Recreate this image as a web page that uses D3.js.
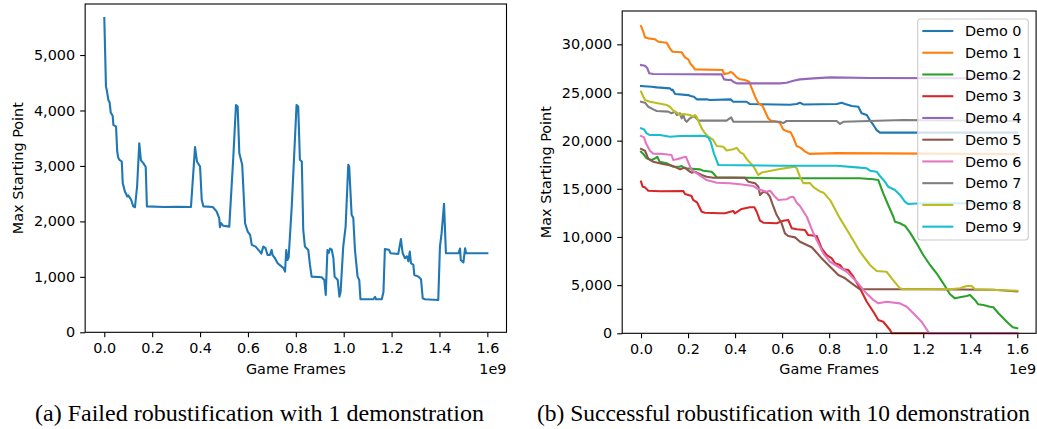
<!DOCTYPE html>
<html>
<head>
<meta charset="utf-8">
<script src="https://cdn.jsdelivr.net/npm/d3@7.9.0/dist/d3.min.js"></script>
<style>
  body { margin: 0; background: #fff; }
  svg { display: block; }
  .tick text { font-family: "DejaVu Sans", sans-serif; font-size: 14.4px; fill: #000; }
  .tick line { stroke: #000; stroke-width: 1.1px; }
  .lbl { font-family: "DejaVu Sans", sans-serif; font-size: 14.4px; fill: #000; }
  .cap { font-family: "Liberation Serif", "Times New Roman", Times, serif; font-size: 21px; fill: #000; }
</style>
</head>
<body>
<svg id="chart" width="1037" height="429"></svg>
<script>
// game frames in units of 1e9, value = max starting point
const leftRun = [[0,5668],[0.007,4430],[0.01,4373],[0.017,4190],[0.022,4150],[0.027,3960],[0.035,3905],[0.038,3740],[0.049,3710],[0.054,3260],[0.058,3150],[0.063,3110],[0.073,3080],[0.077,2690],[0.086,2540],[0.096,2450],[0.1,2470],[0.112,2390],[0.121,2270],[0.128,2255],[0.137,2630],[0.146,3410],[0.153,3100],[0.163,3050],[0.173,2980],[0.178,2270],[0.25,2260],[0.3,2265],[0.362,2260],[0.379,3340],[0.387,3080],[0.4,2990],[0.407,2390],[0.414,2270],[0.453,2260],[0.469,2180],[0.48,2060],[0.483,1895],[0.487,1970],[0.497,1920],[0.522,1906],[0.539,3170],[0.55,4100],[0.557,4070],[0.564,3230],[0.576,3020],[0.588,1967],[0.599,1816],[0.609,1756],[0.616,1576],[0.632,1545],[0.65,1455],[0.656,1420],[0.664,1545],[0.673,1520],[0.682,1395],[0.692,1395],[0.699,1485],[0.703,1390],[0.713,1335],[0.724,1245],[0.741,1185],[0.749,1155],[0.755,1094],[0.76,1485],[0.765,1305],[0.77,1350],[0.783,2270],[0.803,4100],[0.81,4070],[0.817,3110],[0.825,3080],[0.831,1847],[0.838,1545],[0.852,1485],[0.859,1215],[0.866,1004],[0.908,993],[0.919,944],[0.925,673],[0.932,1485],[0.937,1430],[0.943,1510],[0.95,1490],[0.957,1335],[0.962,1004],[0.975,944],[0.982,643],[0.987,725],[0.998,1545],[1.008,1906],[1.019,3020],[1.023,2990],[1.033,2118],[1.04,2060],[1.047,1485],[1.058,1004],[1.065,944],[1.07,596],[1.124,596],[1.131,640],[1.135,596],[1.159,596],[1.166,725],[1.172,1500],[1.189,1490],[1.196,1425],[1.228,1413],[1.239,1680],[1.246,1430],[1.256,1335],[1.264,1370],[1.27,1280],[1.276,1455],[1.281,1245],[1.291,1215],[1.295,1034],[1.312,1004],[1.323,956],[1.33,614],[1.339,596],[1.395,583],[1.402,1545],[1.409,1787],[1.419,2316],[1.427,1425],[1.479,1425],[1.486,1510],[1.489,1305],[1.5,1260],[1.507,1515],[1.511,1425],[1.6,1425]];

const demo0 = [[0,25670],[0.045,25600],[0.067,25530],[0.123,25430],[0.13,25250],[0.134,25300],[0.145,24840],[0.201,24730],[0.211,24630],[0.225,24560],[0.237,24290],[0.279,24290],[0.293,24220],[0.381,24290],[0.392,24040],[0.449,24040],[0.463,23800],[0.633,23730],[0.662,23800],[0.676,23940],[0.69,23760],[0.832,23800],[0.853,23940],[0.868,23800],[0.896,23600],[0.924,23520],[0.938,22840],[0.96,22660],[0.974,22080],[0.988,21630],[1.002,21100],[1.016,20830],[1.6,20830]];
const demo1 = [[0,31900],[0.01,31300],[0.017,30720],[0.031,30620],[0.06,30520],[0.074,30270],[0.109,30170],[0.123,29580],[0.134,29230],[0.173,29170],[0.187,28650],[0.201,28440],[0.211,27950],[0.222,27670],[0.229,27400],[0.347,27330],[0.353,26910],[0.371,26990],[0.381,27150],[0.391,27000],[0.407,26570],[0.421,26370],[0.442,26290],[0.46,26120],[0.471,25430],[0.485,24560],[0.499,23880],[0.517,23600],[0.531,22840],[0.541,22320],[0.551,22080],[0.577,21990],[0.591,21820],[0.605,21160],[0.619,20990],[0.636,20880],[0.648,20300],[0.662,19440],[0.679,19250],[0.697,18890],[0.716,18630],[0.832,18700],[1.6,18600]];
const demo2 = [[0,18850],[0.01,18610],[0.024,18160],[0.045,17990],[0.06,18160],[0.069,18330],[0.079,17820],[0.095,17720],[0.109,17650],[0.137,17290],[0.163,17290],[0.173,17360],[0.187,17130],[0.251,17020],[0.265,16880],[0.3,16780],[0.307,16610],[0.322,16190],[0.591,16090],[0.93,16090],[0.988,15990],[1.009,15910],[1.03,14530],[1.051,13320],[1.073,12100],[1.08,11580],[1.101,11420],[1.115,11240],[1.122,11170],[1.144,10450],[1.172,9340],[1.2,8130],[1.229,7090],[1.257,6230],[1.285,5190],[1.314,4050],[1.335,3630],[1.356,3740],[1.385,3870],[1.399,3980],[1.42,3460],[1.434,3010],[1.456,2940],[1.484,2760],[1.498,2700],[1.52,2080],[1.541,1560],[1.562,1040],[1.581,620],[1.6,520]];
const demo3 = [[0,15740],[0.007,15220],[0.017,15150],[0.031,14800],[0.081,14740],[0.18,14770],[0.187,14460],[0.215,14250],[0.222,13840],[0.239,13560],[0.258,12620],[0.272,12520],[0.336,12460],[0.357,12460],[0.392,12700],[0.399,12460],[0.428,12910],[0.463,13080],[0.482,13080],[0.492,12620],[0.506,11690],[0.52,11480],[0.577,11420],[0.605,11690],[0.626,11760],[0.641,10900],[0.662,10800],[0.697,10720],[0.711,10200],[0.747,10100],[0.768,8820],[0.789,8130],[0.811,7780],[0.825,7270],[0.846,7090],[0.86,6640],[0.882,6570],[0.903,5880],[0.931,4670],[0.96,3280],[0.988,2240],[1.009,1380],[1.03,1200],[1.059,340],[1.066,0],[1.6,0]];
const demo4 = [[0,27850],[0.017,27780],[0.027,27510],[0.035,26990],[0.052,26920],[0.343,26880],[0.353,26360],[0.371,26290],[0.381,26330],[0.392,26120],[0.407,25950],[0.591,25950],[0.619,26010],[0.648,26220],[0.676,26360],[0.733,26470],[0.804,26570],[0.974,26500],[1.6,26470]];
const demo5 = [[0,19150],[0.017,18950],[0.031,18100],[0.052,17810],[0.088,17600],[0.137,17360],[0.166,17020],[0.187,17200],[0.201,16900],[0.215,16670],[0.229,16780],[0.258,16430],[0.279,16260],[0.307,16150],[0.442,16150],[0.456,15740],[0.485,15570],[0.499,15220],[0.506,14360],[0.52,14700],[0.535,14600],[0.548,14180],[0.563,13140],[0.577,12280],[0.598,11420],[0.612,10380],[0.626,10100],[0.655,9960],[0.676,9510],[0.705,9170],[0.726,8930],[0.747,8370],[0.768,7780],[0.789,7270],[0.818,6570],[0.839,6050],[0.868,5710],[0.896,5190],[0.931,4570],[1.2,4570],[1.5,4520],[1.6,4350]];
const demo6 = [[0,20480],[0.013,20340],[0.021,19720],[0.038,18950],[0.052,18650],[0.095,18610],[0.13,18510],[0.137,17990],[0.152,18060],[0.166,18160],[0.18,18270],[0.191,18330],[0.201,17750],[0.215,16950],[0.237,16610],[0.279,15910],[0.322,15630],[0.378,15570],[0.421,15470],[0.478,15290],[0.499,14950],[0.535,14700],[0.549,14800],[0.563,14360],[0.584,13840],[0.619,13910],[0.633,14120],[0.648,14180],[0.662,13560],[0.676,13210],[0.705,12100],[0.733,10380],[0.754,9340],[0.775,8300],[0.804,7430],[0.839,6910],[0.875,6390],[0.917,5360],[0.952,4320],[0.988,3460],[1.009,3110],[1.044,3280],[1.101,3110],[1.13,2760],[1.158,2080],[1.193,1200],[1.226,0],[1.6,0]];
const demo7 = [[0,24040],[0.017,23940],[0.031,23520],[0.052,23250],[0.067,23080],[0.116,23010],[0.13,22840],[0.145,23010],[0.152,22660],[0.166,22840],[0.173,22320],[0.18,22660],[0.187,22140],[0.194,21960],[0.208,22320],[0.22,22480],[0.229,22480],[0.244,22080],[0.364,22080],[0.383,22420],[0.392,21980],[0.591,21960],[0.605,21820],[0.619,22040],[0.832,22040],[0.846,21730],[0.86,21960],[1.115,22140],[1.6,22040]];
const demo8 = [[0,25080],[0.01,24560],[0.017,24220],[0.038,24040],[0.088,23800],[0.109,23700],[0.123,23520],[0.137,23110],[0.152,22900],[0.166,22660],[0.18,22770],[0.208,22660],[0.222,22480],[0.229,22660],[0.236,22480],[0.258,21280],[0.272,20770],[0.286,20410],[0.307,20070],[0.322,19440],[0.35,19370],[0.364,18980],[0.392,19100],[0.407,19250],[0.421,18800],[0.435,18630],[0.449,18090],[0.478,17330],[0.499,16440],[0.513,16690],[0.591,17050],[0.655,17300],[0.662,17140],[0.676,16240],[0.69,15590],[0.719,15590],[0.733,15180],[0.761,14730],[0.776,14600],[0.804,13830],[0.846,11930],[0.889,10200],[0.931,8470],[0.974,7090],[1.002,6470],[1.044,6390],[1.066,5710],[1.101,4670],[1.115,4570],[1.314,4570],[1.356,4670],[1.385,4910],[1.406,4910],[1.42,4570],[1.6,4420]];
const demo9 = [[0,21280],[0.013,21170],[0.024,20760],[0.038,20580],[0.081,20580],[0.123,20410],[0.166,20480],[0.251,20510],[0.272,20480],[0.286,20340],[0.296,19890],[0.31,18680],[0.329,17470],[0.591,17400],[0.832,17400],[0.917,17230],[0.96,17130],[0.974,16880],[1.002,16780],[1.016,16330],[1.037,15740],[1.051,15220],[1.08,14880],[1.101,14360],[1.122,13660],[1.136,13420],[1.172,13480],[1.6,13520]];

const demoNames = ['Demo 0','Demo 1','Demo 2','Demo 3','Demo 4','Demo 5','Demo 6','Demo 7','Demo 8','Demo 9'];
const demoRuns = [demo0, demo1, demo2, demo3, demo4, demo5, demo6, demo7, demo8, demo9];
const xTicks = [0, 0.2, 0.4, 0.6, 0.8, 1.0, 1.2, 1.4, 1.6];
const leftYTicks = [0, 1000, 2000, 3000, 4000, 5000];
const rightYTicks = [0, 5000, 10000, 15000, 20000, 25000, 30000];
const captions = ['(a) Failed robustification with 1 demonstration', '(b) Successful robustification with 10 demonstration'];

const colors = d3.schemeCategory10;
const svg = d3.select('#chart');

function drawPanel(box, yMax, yTicks, runs, ylabelX) {
  const x = d3.scaleLinear().domain([-0.08, 1.68]).range([box.x0, box.x1]);
  const y = d3.scaleLinear().domain([0, yMax]).range([box.y1, box.y0]);
  const g = svg.append('g');

  const xAxis = g.append('g')
    .attr('transform', `translate(0,${box.y1})`)
    .call(d3.axisBottom(x).tickValues(xTicks).tickFormat(d3.format('.1f')).tickSize(5).tickPadding(5));
  const yAxis = g.append('g')
    .attr('transform', `translate(${box.x0},0)`)
    .call(d3.axisLeft(y).tickValues(yTicks).tickFormat(d3.format(',')).tickSize(5).tickPadding(5));
  xAxis.select('.domain').remove();
  yAxis.select('.domain').remove();

  const line = d3.line().x(d => x(d[0])).y(d => y(d[1]));
  g.append('g').selectAll('path')
    .data(runs)
    .join('path')
    .attr('d', d => line(d.values))
    .attr('fill', 'none')
    .attr('stroke', d => d.color)
    .attr('stroke-width', 2.1)
    .attr('stroke-linejoin', 'round')
    .attr('stroke-linecap', 'square');

  g.append('rect')
    .attr('x', box.x0).attr('y', box.y0)
    .attr('width', box.x1 - box.x0).attr('height', box.y1 - box.y0)
    .attr('fill', 'none').attr('stroke', '#000').attr('stroke-width', 1.1);

  g.append('text').attr('class', 'lbl')
    .attr('x', (box.x0 + box.x1) / 2).attr('y', 374.3)
    .attr('text-anchor', 'middle').text('Game Frames');
  g.append('text').attr('class', 'lbl')
    .attr('x', box.x1).attr('y', 374.3)
    .attr('text-anchor', 'end').text('1e9');
  g.append('text').attr('class', 'lbl')
    .attr('transform', `translate(${ylabelX},${(box.y0 + box.y1) / 2}) rotate(-90)`)
    .attr('text-anchor', 'middle').text('Max Starting Point');
  return g;
}

drawPanel({x0: 85.15, x1: 506.5, y0: 4, y1: 332.3}, 5920, leftYTicks,
  [{values: leftRun, color: colors[0]}], 22.5);

const right = drawPanel({x0: 622.2, x1: 1036.1, y0: 11, y1: 333.3}, 33460, rightYTicks,
  demoRuns.map((v, i) => ({values: v, color: colors[i]})), 550.5);

// legend
const legend = right.append('g');
legend.append('rect')
  .attr('x', 917.7).attr('y', 19).attr('width', 110.6).attr('height', 221)
  .attr('rx', 3).attr('fill', '#fff').attr('fill-opacity', 0.8)
  .attr('stroke', '#cccccc').attr('stroke-width', 1.1);
const items = legend.selectAll('g.item')
  .data(demoNames)
  .join('g')
  .attr('class', 'item')
  .attr('transform', (d, i) => `translate(0,${31 + i * 21.74})`);
items.append('line')
  .attr('x1', 922.3).attr('x2', 953.3)
  .attr('stroke', (d, i) => colors[i]).attr('stroke-width', 2.1);
items.append('text').attr('class', 'lbl')
  .attr('x', 965).attr('dy', '0.36em').text(d => d);

// captions, slightly condensed like the printed figure
svg.selectAll('text.cap')
  .data(captions)
  .join('text')
  .attr('class', 'cap')
  .attr('transform', (d, i) => `translate(${i === 0 ? 35 : 537},421) scale(1,1.14)`)
  .attr('textLength', (d, i) => i === 0 ? 449 : 493)
  .attr('lengthAdjust', 'spacingAndGlyphs')
  .text(d => d);
</script>
</body>
</html>
